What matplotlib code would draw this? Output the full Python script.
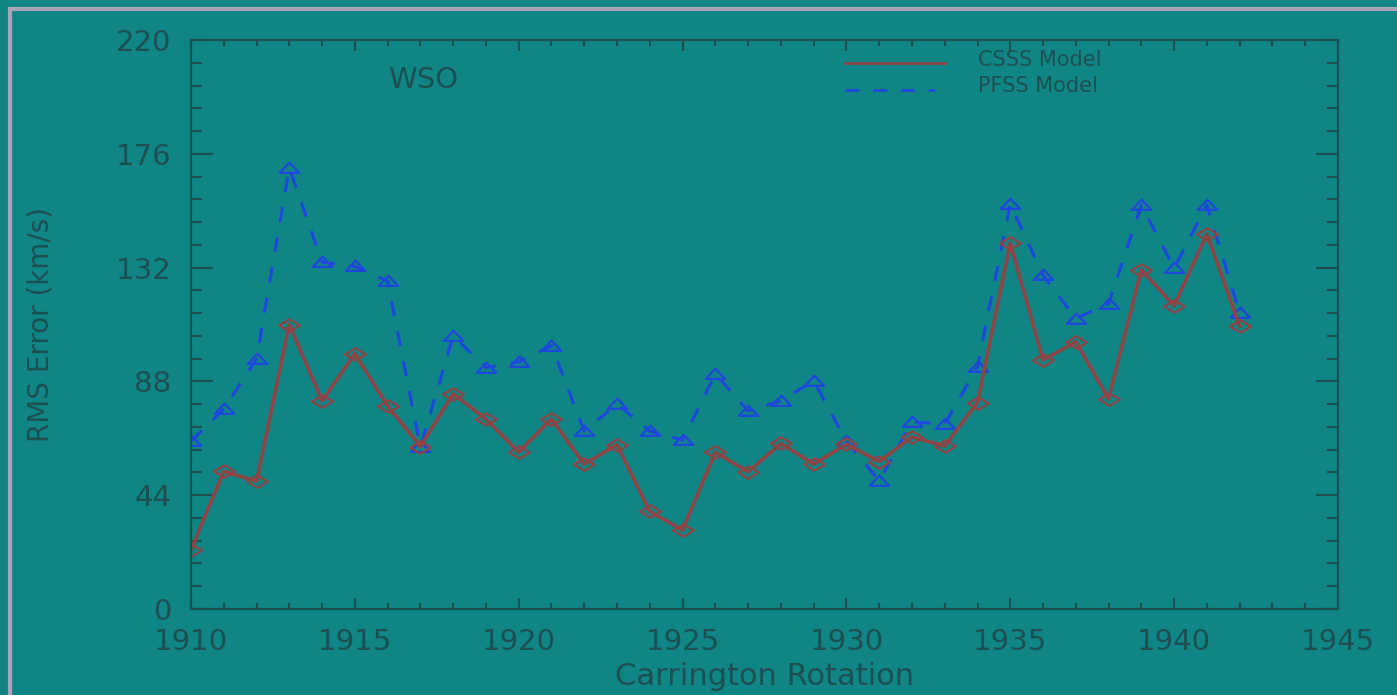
import matplotlib
matplotlib.use("Agg")
import matplotlib.pyplot as plt
from matplotlib.path import Path
from matplotlib.patches import Rectangle
from matplotlib.ticker import MultipleLocator

# Carrington rotation numbers and RMS speed errors (km/s)
rotations = list(range(1910, 1943))
csss_rms = [22.9, 53.2, 49.4, 110.0, 80.5, 98.7, 78.5, 62.8, 83.2, 73.5, 60.6,
            73.5, 56.0, 63.5, 37.7, 30.5, 60.6, 53.0, 64.0, 56.0, 63.7, 57.0,
            66.5, 63.0, 79.8, 141.5, 96.3, 103.3, 81.2, 131.2, 117.2, 145.0, 109.3]
pfss_rms = [64.9, 77.3, 96.8, 170.6, 134.1, 132.5, 126.7, 62.6, 105.7, 93.3, 95.6,
            101.8, 68.8, 79.3, 68.8, 65.3, 90.9, 76.6, 80.5, 88.2, 64.9, 49.5,
            72.3, 71.5, 93.7, 156.6, 129.0, 112.3, 118.1, 156.2, 131.8, 156.2, 114.3]

series_names = ["CSSS Model", "PFSS Model"]
y_ticks = [0, 44, 88, 132, 176, 220]
x_ticks = [1910, 1915, 1920, 1925, 1930, 1935, 1940, 1945]

bg = "#0f8585"
ink = "#1d4f50"
red = "#8e4444"
blue = "#1e46dc"

W, H = 1397, 695

# flattened open symbols
diamond = Path([(-1, 0), (0, 0.6), (1, 0), (0, -0.6), (-1, 0)],
               [Path.MOVETO, Path.LINETO, Path.LINETO, Path.LINETO, Path.CLOSEPOLY])
triangle = Path([(-1, -0.45), (0, 0.6), (1, -0.45), (-1, -0.45)],
                [Path.MOVETO, Path.LINETO, Path.LINETO, Path.CLOSEPOLY])

fig = plt.figure(figsize=(W / 100, H / 100), dpi=100, facecolor=bg)
fig.patches.append(Rectangle((10 / W, -0.1), 1.2, 1.1 - 9 / H,
                             transform=fig.transFigure, fill=False,
                             edgecolor="#a9a3b8", linewidth=3.0))
ax = fig.add_axes([191 / W, 86 / H, (1338 - 191) / W, (609 - 40) / H])
ax.set_facecolor(bg)

ax.plot(rotations, pfss_rms, color=blue, linestyle=(0, (5, 5)), linewidth=2.2,
        marker=triangle, markersize=14, markerfacecolor="none",
        markeredgecolor=blue, markeredgewidth=1.6)
ax.plot(rotations, csss_rms, color=red, linestyle="-", linewidth=2.6,
        marker=diamond, markersize=15, markerfacecolor="none",
        markeredgecolor=red, markeredgewidth=1.6)

ax.set_xlim(1910, 1945)
ax.set_ylim(0, 220)
ax.set_xticks(x_ticks)
ax.set_yticks(y_ticks)
ax.xaxis.set_minor_locator(MultipleLocator(1))
ax.yaxis.set_minor_locator(MultipleLocator(8.8))

ax.tick_params(axis="both", which="both", direction="in", top=True, right=True,
               colors=ink, width=1.5)
ax.tick_params(axis="y", which="major", length=16, labelsize=21, pad=14)
ax.tick_params(axis="y", which="minor", length=8)
ax.tick_params(axis="x", which="major", length=8, labelsize=21, pad=14)
ax.tick_params(axis="x", which="minor", length=4)
for lbl in ax.get_xticklabels() + ax.get_yticklabels():
    lbl.set_color(ink)
for s in ax.spines.values():
    s.set_color(ink)
    s.set_linewidth(1.6)

ax.set_xlabel("Carrington Rotation", fontsize=22, color=ink, labelpad=4)
ax.set_ylabel("RMS Error (km/s)", fontsize=20, color=ink, labelpad=44)

fig.text(388 / W, 1 - 80 / H, "WSO", fontsize=21, color=ink, va="center")

# legend drawn in figure space
fig.lines.append(plt.Line2D([845 / W, 945 / W], [1 - 63 / H] * 2,
                            transform=fig.transFigure, color=red, linewidth=2))
fig.lines.append(plt.Line2D([845 / W, 935 / W], [1 - 90 / H] * 2,
                            transform=fig.transFigure, color=blue, linewidth=2,
                            linestyle=(0, (5, 5))))
fig.text(978 / W, 1 - 60 / H, series_names[0], fontsize=15, color=ink, va="center")
fig.text(978 / W, 1 - 86 / H, series_names[1], fontsize=15, color=ink, va="center")

fig.savefig("out.png", dpi=100, facecolor=bg)
